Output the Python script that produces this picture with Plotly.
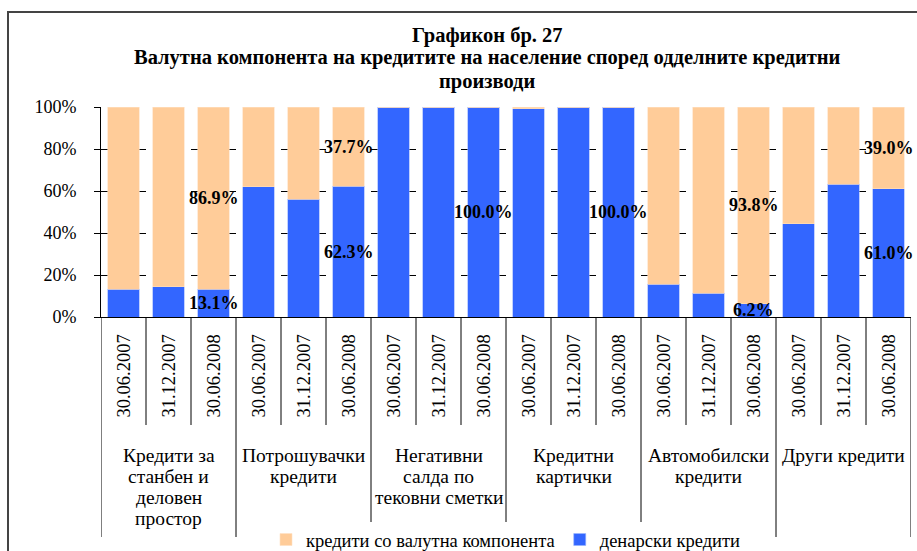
import plotly.graph_objects as go

# ---------------- data ----------------
groups = [
    ["Кредити за", "станбен и", "деловен", "простор"],
    ["Потрошувачки", "кредити"],
    ["Негативни", "салда по", "тековни сметки"],
    ["Кредитни", "картички"],
    ["Автомобилски", "кредити"],
    ["Други кредити"],
]
dates = ["30.06.2007", "31.12.2007", "30.06.2008"]

denar = [13.2, 14.4, 13.1,
         62.1, 56.0, 62.3,
         100.0, 100.0, 100.0,
         99.1, 100.0, 100.0,
         15.7, 11.3, 6.2,
         44.3, 63.2, 61.0]
foreign = [round(100 - v, 1) for v in denar]

series_names = ["денарски кредити", "кредити со валутна компонента"]
colors = ["#3366FF", "#FFCC99"]
title_lines = ["Графикон бр. 27",
               "Валутна компонента на кредитите на население според одделните кредитни",
               "производи"]
yticks = [0, 20, 40, 60, 80, 100]

# ---------------- layout helpers ----------------
W, H = 917, 551
L, R, T, B = 101, 911, 107, 317
SERIF = "Liberation Serif, Times New Roman, serif"


def py(ypix):
    return (B - ypix) / (B - T)


def px(xpix):
    return (xpix - L) / (R - L)


labels_x = []
for g in range(len(groups)):
    for d in dates:
        labels_x.append(len(labels_x))
n = len(labels_x)

fig = go.Figure()
fig.add_trace(go.Bar(x=labels_x, y=denar, name=series_names[0],
                     marker=dict(color=colors[0], line=dict(width=0.6, color="#99B3FF"))))
fig.add_trace(go.Bar(x=labels_x, y=foreign, name=series_names[1],
                     marker=dict(color=colors[1], line=dict(width=0.6, color="#FFE0C2"))))

annotations = []
shapes = []

# data labels for the last date in each group
for i in range(n):
    if i % len(dates) != len(dates) - 1:
        continue
    if denar[i] > 0:
        annotations.append(dict(x=labels_x[i], y=denar[i] / 2, xref="x", yref="y",
                                text=f"<b>{denar[i]:.1f}%</b>", showarrow=False,
                                font=dict(family=SERIF, size=18, color="black")))
    if foreign[i] > 0:
        annotations.append(dict(x=labels_x[i], y=denar[i] + foreign[i] / 2, xref="x", yref="y",
                                text=f"<b>{foreign[i]:.1f}%</b>", showarrow=False,
                                font=dict(family=SERIF, size=18, color="black")))

# date labels (rotated)
for i in range(n):
    annotations.append(dict(x=labels_x[i], y=py(376), xref="x", yref="paper",
                            text=dates[i % len(dates)], textangle=-90, showarrow=False,
                            xanchor="center", yanchor="middle",
                            font=dict(family=SERIF, size=18.5, color="black")))

# group labels
for g, lines in enumerate(groups):
    cx = g * len(dates) + (len(dates) - 1) / 2
    for k, line in enumerate(lines):
        annotations.append(dict(x=cx, y=py(455 + 21.3 * k), xref="x", yref="paper",
                                text=line, showarrow=False, xanchor="center", yanchor="middle",
                                font=dict(family=SERIF, size=19.5, color="black")))

# separators
for i in range(n + 1):
    if i % len(dates) == 0:
        continue
    shapes.append(dict(type="line", xref="x", yref="paper", x0=i - 0.5, x1=i - 0.5,
                       y0=0, y1=py(425), line=dict(color="black", width=1)))
group_bottoms = [537, 537, 522, 522, 522, 537, 537]
for g in range(len(groups) + 1):
    xg = g * len(dates) - 0.5
    shapes.append(dict(type="line", xref="x", yref="paper", x0=xg, x1=xg,
                       y0=0, y1=py(group_bottoms[g]), line=dict(color="black", width=1)))

# chart border (extends past the picture's right/bottom edges)
shapes.append(dict(type="rect", xref="paper", yref="paper",
                   x0=px(8), x1=px(960), y0=py(600), y1=py(12),
                   line=dict(color="#444444", width=2), fillcolor="rgba(0,0,0,0)"))

# title lines
for k, line in enumerate(title_lines):
    annotations.append(dict(x=px(487), y=py(35 + 23 * k), xref="paper", yref="paper",
                            text=f"<b>{line}</b>", showarrow=False,
                            xanchor="center", yanchor="middle",
                            font=dict(family=SERIF, size=20.5, color="black")))

fig.update_layout(
    width=W, height=H,
    margin=dict(l=L, r=W - R, t=T, b=H - B, pad=0, autoexpand=False),
    paper_bgcolor="white", plot_bgcolor="white",
    barmode="stack", bargap=0.31,
    showlegend=True,
    legend=dict(orientation="h", x=0.5, xanchor="center", y=py(540), yanchor="middle",
                traceorder="reversed", font=dict(family=SERIF, size=18.5, color="black"),
                itemwidth=30, bgcolor="rgba(0,0,0,0)"),
    xaxis=dict(range=[-0.5, n - 0.5], showticklabels=False, showgrid=False,
               zeroline=False, showline=True, linecolor="black", linewidth=1, ticks=""),
    yaxis=dict(range=[0, 100], tickvals=yticks, ticktext=[f"{v}%" for v in yticks],
               showgrid=True, gridcolor="black", griddash="dash", gridwidth=1,
               zeroline=False, showline=True, linecolor="black", linewidth=1,
               ticks="outside", ticklen=6, tickcolor="black", ticklabelstandoff=14,
               tickfont=dict(family=SERIF, size=18, color="black")),
    annotations=annotations,
    shapes=shapes,
)

fig.write_html("out.html", config={"displayModeBar": False},
               post_script="document.body.style.margin='0';document.body.style.overflow='hidden';")
